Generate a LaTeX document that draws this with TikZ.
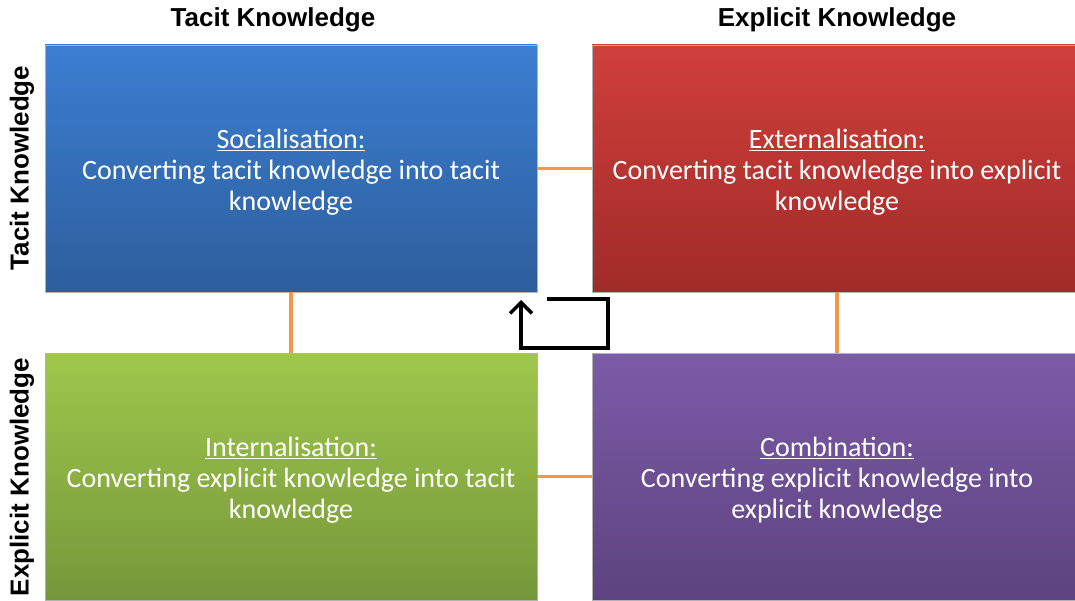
\documentclass[tikz,border=0pt]{standalone}
\usepackage{fontspec}
\setmainfont{Carlito}
\newfontfamily\hdfont{Liberation Sans}
\usetikzlibrary{arrows.meta}
\definecolor{bluetop}{HTML}{3C7ED2}
\definecolor{bluebot}{HTML}{2D5E9C}
\definecolor{redtop}{HTML}{D03F3B}
\definecolor{redbot}{HTML}{A02B28}
\definecolor{greentop}{HTML}{9FC74C}
\definecolor{greenbot}{HTML}{76973A}
\definecolor{purptop}{HTML}{7C5BA8}
\definecolor{purpbot}{HTML}{5D437F}
\definecolor{conn}{HTML}{F79646}
\tikzset{
  quad/.style={minimum width=492pt, minimum height=247pt, inner sep=0pt, draw=white!70!black, line width=0.6pt},
  qtext/.style={text=white, align=center, font=\fontsize{28}{31}\selectfont, inner sep=0pt},
  hdr/.style={font=\hdfont\bfseries\fontsize{26}{28}\selectfont, text=black},
  link/.style={conn, line width=3.5pt},
}
\begin{document}
\begin{tikzpicture}[x=1pt,y=-1pt]
\useasboundingbox (0,0) rectangle (1075,601);
\node[quad, top color=bluetop, bottom color=bluebot] (soc) at (291,168.5) {};
\node[quad, minimum width=490pt, top color=redtop, bottom color=redbot] (ext) at (837,168.5) {};
\node[quad, top color=greentop, bottom color=greenbot] (int) at (291,476.5) {};
\node[quad, minimum width=490pt, top color=purptop, bottom color=purpbot] (com) at (837,476.5) {};
\node[qtext] (soct) at (291,172)
  {\underline{Socialisation:}\\Converting tacit knowledge into tacit\\knowledge};
\node[qtext] (extt) at (837,172)
  {\underline{Externalisation:}\\Converting tacit knowledge into explicit\\knowledge};
\node[qtext] (intt) at (291,480)
  {\underline{Internalisation:}\\Converting explicit knowledge into tacit\\knowledge};
\node[qtext] (comt) at (837,480)
  {\underline{Combination:}\\Converting explicit knowledge into\\explicit knowledge};
\node[hdr] (h1) at (273,20) {Tacit Knowledge};
\node[hdr] (h2) at (837,20) {Explicit Knowledge};
\node[hdr, rotate=90] (v1) at (22,168) {Tacit Knowledge};
\node[hdr, rotate=90] (v2) at (22,477) {Explicit Knowledge};
\draw[link] (soc.east) -- (ext.west);
\draw[link] (int.east) -- (com.west);
\draw[link] (soc.south) -- (int.north);
\draw[link] (ext.south) -- (com.north);
\coordinate (a0) at (547,299);
\coordinate (a1) at (608,299);
\coordinate (a2) at (608,348);
\coordinate (a3) at (521,348);
\coordinate (a4) at (521,300);
\draw[line width=3.5pt, line join=miter, -{Straight Barb[length=11pt,width=22pt]}] (a0) -- (a1) -- (a2) -- (a3) -- (a4);
\end{tikzpicture}
\end{document}
